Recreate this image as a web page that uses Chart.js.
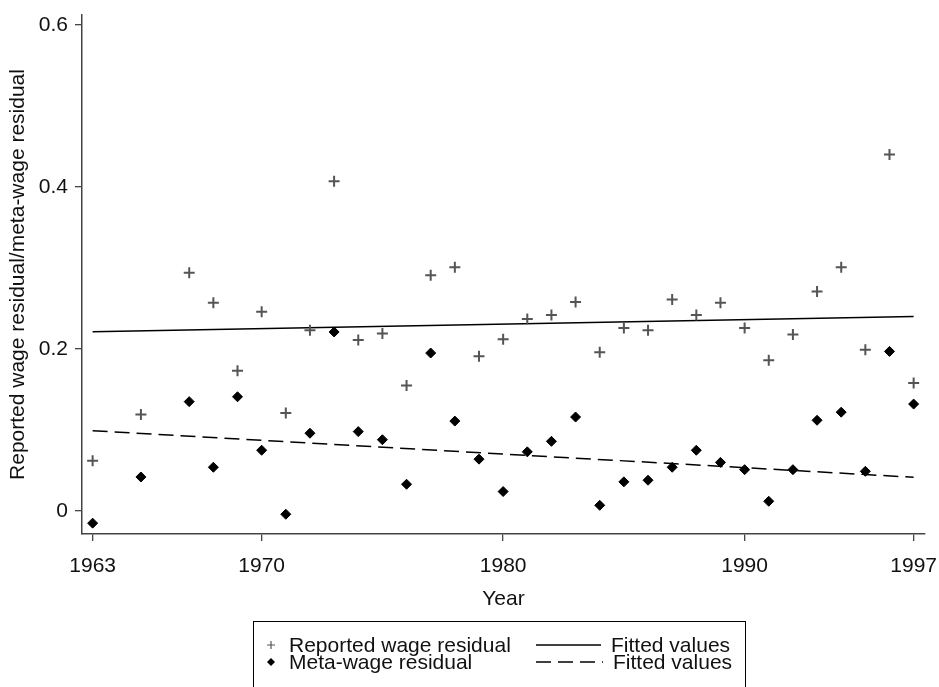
<!DOCTYPE html>
<html><head><meta charset="utf-8">
<script src="https://cdn.jsdelivr.net/npm/chart.js@4"></script>
<style>html,body{margin:0;padding:0;background:#fff}</style>
</head><body>
<canvas id="c" width="939" height="687"></canvas>
<script>
const years = [1963,1965,1967,1968,1969,1970,1971,1972,1973,1974,1975,1976,1977,1978,1979,1980,1981,1982,1983,1984,1985,1986,1987,1988,1989,1990,1991,1992,1993,1994,1995,1996,1997];
const reported = [0.062,0.119,0.294,0.257,0.173,0.246,0.121,0.223,0.407,0.211,0.219,0.155,0.291,0.301,0.191,0.212,0.237,0.242,0.258,0.196,0.226,0.223,0.261,0.242,0.257,0.226,0.186,0.218,0.271,0.301,0.199,0.440,0.158];
const meta = [-0.015,0.042,0.135,0.054,0.141,0.075,-0.004,0.096,0.221,0.098,0.088,0.033,0.195,0.111,0.064,0.024,0.073,0.086,0.116,0.007,0.036,0.038,0.054,0.075,0.060,0.051,0.012,0.051,0.112,0.122,0.049,0.197,0.132];
const fitYears = [1963,1997];
const fitReported = [0.2214,0.2400];
const fitMeta = [0.0991,0.0416];
const xTicks = [1963,1970,1980,1990,1997];
const yTicks = [0,0.2,0.4,0.6];

const FONT = '"Liberation Sans", Arial, Helvetica, sans-serif';
const FS = 21;
const pts = (xs, ys) => xs.map((x,i)=>({x:x,y:ys[i]}));

const legendPlugin = {
  id:'boxLegend',
  afterDraw(chart){
    const ctx = chart.ctx, ds = chart.data.datasets;
    ctx.save();
    ctx.strokeStyle = '#000'; ctx.lineWidth = 1; ctx.setLineDash([]);
    ctx.strokeRect(253.5, 621.5, 492, 80);
    ctx.font = FS + 'px ' + FONT;
    ctx.fillStyle = '#111'; ctx.textBaseline = 'middle'; ctx.textAlign = 'left';
    const rowY = [645, 662];
    const cells = [[ds[0],0,0],[ds[1],1,0],[ds[2],0,1],[ds[3],1,1]];
    cells.forEach(([d,col,row])=>{
      const y = rowY[row];
      if (col === 0) {
        const mx = 271;
        if (d.pointStyle === 'cross') {
          ctx.strokeStyle = d.borderColor; ctx.lineWidth = 1.2;
          ctx.beginPath(); ctx.moveTo(mx-4,y); ctx.lineTo(mx+4,y); ctx.moveTo(mx,y-4); ctx.lineTo(mx,y+4); ctx.stroke();
        } else {
          ctx.fillStyle = '#000';
          ctx.beginPath(); ctx.moveTo(mx-4,y); ctx.lineTo(mx,y-4); ctx.lineTo(mx+4,y); ctx.lineTo(mx,y+4); ctx.closePath(); ctx.fill();
        }
        ctx.fillStyle = '#111';
        ctx.fillText(d.label, 289, y+1);
      } else {
        ctx.strokeStyle = '#000'; ctx.lineWidth = 1.3;
        ctx.setLineDash(d.borderDash || []);
        ctx.beginPath(); ctx.moveTo(536,y); ctx.lineTo(row===0?601:603,y); ctx.stroke();
        ctx.setLineDash([]);
        ctx.fillStyle = '#111';
        ctx.fillText(d.label, row===0?611:613, y+1);
      }
    });
    ctx.restore();
  }
};

new Chart(document.getElementById('c'), {
  data: {
    datasets: [
      { type:'scatter', label:'Reported wage residual', data: pts(years, reported),
        pointStyle:'cross', pointRadius:5.5, borderColor:'#555', backgroundColor:'#555', pointBorderWidth:2 },
      { type:'line', label:'Fitted values', data: pts(fitYears, fitReported),
        borderColor:'#000', borderWidth:1.5, pointRadius:0, fill:false },
      { type:'scatter', label:'Meta-wage residual', data: pts(years, meta),
        pointStyle:'rectRot', pointRadius:5, borderColor:'#000', backgroundColor:'#000', pointBorderWidth:1 },
      { type:'line', label:'Fitted values', data: pts(fitYears, fitMeta),
        borderColor:'#000', borderWidth:1.5, borderDash:[15,7], pointRadius:0, fill:false }
    ]
  },
  options: {
    responsive:false, animation:false, devicePixelRatio:1,
    layout:{ padding:{ left:0, top:15, right:14, bottom:75 } },
    plugins:{ legend:{display:false}, tooltip:{enabled:false} },
    scales:{
      x:{ type:'linear', min:1962.56, max:1997.47,
        afterBuildTicks:(s)=>{ s.ticks = xTicks.map(v=>({value:v})); },
        afterFit:(s)=>{ s.height = 78; s.paddingLeft = 0; s.paddingRight = 0; },
        ticks:{ callback:(v)=>String(v), font:{family:FONT,size:FS}, color:'#111', padding:13, maxRotation:0, autoSkip:false },
        grid:{ drawOnChartArea:false, drawTicks:true, tickLength:7, color:'#444', lineWidth:1.3 },
        border:{ display:true, color:'#444', width:1.5 },
        title:{ display:true, text:'Year', font:{family:FONT,size:FS}, color:'#111', padding:0 }
      },
      y:{ type:'linear', min:-0.0284, max:0.6123,
        afterBuildTicks:(s)=>{ s.ticks = yTicks.map(v=>({value:v})); },
        afterFit:(s)=>{ s.width = 82; s.paddingTop = 0; s.paddingBottom = 0; },
        ticks:{ callback:(v)=> v===0 ? '0' : v.toFixed(1), font:{family:FONT,size:FS}, color:'#111', padding:7, autoSkip:false },
        grid:{ drawOnChartArea:false, drawTicks:true, tickLength:7, color:'#444', lineWidth:1.3 },
        border:{ display:true, color:'#444', width:1.5 },
        title:{ display:true, text:'Reported wage residual/meta-wage residual', font:{family:FONT,size:FS}, color:'#111', padding:{top:6,bottom:0} }
      }
    }
  },
  plugins:[legendPlugin]
});
</script>
</body></html>
